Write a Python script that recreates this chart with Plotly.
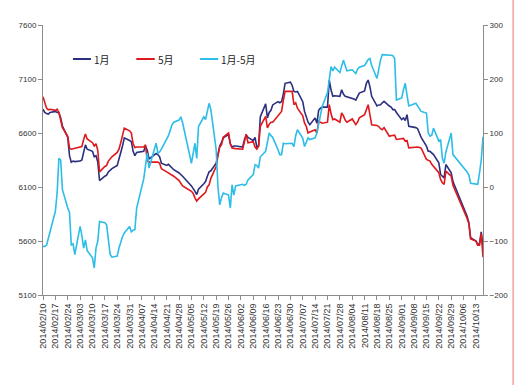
import pandas as pd
import plotly.graph_objects as go

# ---- trading calendar (China futures, 2014) ----
holidays = ["2014-04-07", "2014-05-01", "2014-05-02", "2014-06-02", "2014-09-08",
            "2014-10-01", "2014-10-02", "2014-10-03", "2014-10-06", "2014-10-07"]
days = pd.bdate_range("2014-02-10", "2014-10-17")
dates = [d for d in days if d.strftime("%Y-%m-%d") not in holidays]

# ---- 1月 contract (left axis) ----
jan = [
    6820, 6790, 6780, 6775, 6790, 6800, 6790, 6790, 6740, 6665, 6560, 6390, 6330, 6340, 6335,
    6340, 6350, 6420, 6490, 6450, 6430, 6380, 6390, 6330, 6160, 6200, 6210, 6240, 6260, 6270, 6300, 6350, 6420, 6480, 6555, 6530,
    6520, 6430, 6390, 6420, 6430, 6480, 6440, 6360, 6400, 6410, 6400, 6380, 6320, 6300, 6310, 6290, 6270, 6260, 6230, 6210, 6200,
    6110, 6090, 6060, 6030, 6080, 6130, 6150, 6200, 6240, 6250, 6320, 6400, 6480, 6510, 6555, 6585, 6500, 6470, 6480, 6480,
    6470, 6540, 6580, 6560, 6530, 6560, 6470, 6480, 6750, 6870, 6740, 6790, 6810, 6860, 6890, 6880, 6890, 6960, 7060, 7070,
    7040, 6985, 6980, 6985, 6890, 6800, 6740, 6700, 6677, 6740, 6690, 6810, 6830, 6840, 6840, 7090, 7000, 6940, 6945, 6940, 7000, 6960, 6940,
    6935, 6923, 6915, 6905, 6940, 6970, 6990, 7060, 7090, 7030, 6940, 6850, 6860, 6862, 6880, 6893, 6850, 6840, 6816, 6816, 6790,
    6724, 6740, 6715, 6770, 6662, 6650, 6640, 6600, 6560, 6478, 6431, 6430, 6410, 6400, 6324, 6216, 6200, 6185, 6308, 6232, 6150,
    5830, 5770, 5630, 5600, 5570, 5575, 5685, 5550,
]

# ---- 5月 contract (left axis) ----
may = [
    6935, 6880, 6830, 6815, 6820, 6810, 6820, 6790, 6730, 6650, 6570, 6460, 6450, 6455, 6460,
    6470, 6475, 6540, 6590, 6545, 6510, 6480, 6500, 6440, 6240, 6290, 6300, 6340, 6360, 6380, 6420, 6450, 6510, 6580, 6645, 6620,
    6600, 6500, 6465, 6470, 6470, 6490, 6340, 6330, 6330, 6335, 6330, 6320, 6270, 6240, 6230, 6215, 6210, 6200, 6160, 6130, 6110,
    6060, 6040, 6000, 5970, 5990, 6030, 6050, 6100, 6120, 6180, 6290, 6390, 6470, 6490, 6560, 6600, 6500, 6460, 6455, 6455,
    6450, 6530, 6590, 6510, 6520, 6470, 6450, 6478, 6662, 6754, 6647, 6680, 6700, 6700, 6760, 6790, 6800, 6900, 6985, 6985,
    6985, 6862, 6880, 6830, 6760, 6693, 6660, 6600, 6610, 6630, 6600, 6708, 6700, 6690, 6700, 6862, 6780, 6724, 6730, 6700, 6785, 6760, 6720,
    6700, 6730, 6700, 6677, 6700, 6740, 6770, 6820, 6862, 6770, 6677, 6670, 6660, 6640, 6631, 6650, 6570, 6575, 6575, 6580, 6540,
    6545, 6550, 6524, 6530, 6462, 6470, 6470, 6465, 6460, 6355, 6350, 6340, 6310, 6293, 6232, 6170, 6139, 6124, 6247, 6200, 6115,
    5808, 5760, 5620, 5600, 5560, 5560, 5670, 5450,
]

# ---- 1月-5月 spread (right axis) ----
spread = [
    -110, -110, -108, -95, -79, -45, -11, 53, 50, -5, -39, -47, -107, -105, -125,
    -73, -90, -113, -98, -118, -131, -150, -113, -100, -64, -66, -70, -100, -125, -130, -128, -113, -100, -92, -85, -73,
    -83, -80, -79, -39, 15, 40, 63, 35, 72, 81, 63, 65, 70, 87, 95, 105, 115, 120, 124, 130, 119,
    44, 60, 81, 53, 112, 130, 125, 140, 155, 143, 69, 1, -33, -20, -11, -15, -39, 4, -15, 2,
    5, 3, 5, 13, 23, 41, 40, 35, 56, 66, 80, 100, 95, 92, 69, 60, 60, 81, 80, 81,
    81, 75, 95, 106, 90, 75, 85, 91, 88, 91, 100, 115, 130, 149, 175, 204, 223, 215, 222, 212, 225, 235, 225,
    215, 217, 213, 210, 218, 222, 225, 232, 236, 238, 225, 201, 220, 235, 245, 245, 245, 244, 243, 238, 161,
    165, 180, 192, 170, 150, 155, 150, 145, 140, 137, 100, 94, 96, 109, 85, 88, 53, 44, 65, 100, 60,
    28, 22, 7, 5, 5, 25, 50, 93,
]

names = ["1月", "5月", "1月-5月"]
colors = ["#2b2f7e", "#e0181b", "#2cbde8"]

for s in (jan, may, spread):
    if len(s) != len(dates):
        raise ValueError(f"length {len(s)} != {len(dates)}")

fig = go.Figure()
fig.add_trace(go.Scatter(x=dates, y=jan, name=names[0], mode="lines",
                         line=dict(color=colors[0], width=1.6)))
fig.add_trace(go.Scatter(x=dates, y=may, name=names[1], mode="lines",
                         line=dict(color=colors[1], width=1.6)))
fig.add_trace(go.Scatter(x=dates, y=spread, name=names[2], mode="lines", yaxis="y2",
                         line=dict(color=colors[2], width=1.6)))

tickfont = dict(family="Liberation Sans, Arial, sans-serif", size=8, color="#333333")
axcol = "#8c8c8c"

fig.update_layout(
    width=520, height=385,
    margin=dict(l=43, r=32, t=25, b=90),
    paper_bgcolor="white", plot_bgcolor="white",
    showlegend=False,
    xaxis=dict(type="date", range=["2014-02-10", "2014-10-17"],
               tick0="2014-02-10", dtick=7 * 86400000, tickformat="%Y/%m/%d",
               tickangle=-90, tickfont=dict(family="Liberation Sans, Arial, sans-serif", size=9, color="#333"),
               showgrid=False, zeroline=False, showline=True, linecolor=axcol, linewidth=1,
               ticks="outside", ticklen=4, tickcolor=axcol),
    yaxis=dict(range=[5100, 7600], tick0=5100, dtick=500, tickfont=tickfont,
               showgrid=False, zeroline=False, showline=True, linecolor=axcol, linewidth=1,
               ticks="outside", ticklen=4, tickcolor=axcol),
    yaxis2=dict(range=[-200, 300], tick0=-200, dtick=100, overlaying="y", side="right", tickfont=tickfont,
                showgrid=False, zeroline=False, showline=True, linecolor=axcol, linewidth=1,
                ticks="outside", ticklen=4, tickcolor=axcol),
)

# manual legend (short sample lines like the original)
leg_y = 0.874
leg_items = [(0.068, 0.109), (0.212, 0.254), (0.357, 0.398)]
for (x0, x1), nm, col in zip(leg_items, names, colors):
    fig.add_shape(type="line", xref="paper", yref="paper", x0=x0, x1=x1, y0=leg_y, y1=leg_y,
                  line=dict(color=col, width=2))
    fig.add_annotation(xref="paper", yref="paper", x=x1 + 0.002, y=leg_y, text=nm, showarrow=False,
                       xanchor="left", yanchor="middle",
                       font=dict(family="Noto Sans CJK SC, sans-serif", size=10, color="#222"))

fig.add_shape(type="line", xref="paper", yref="paper", x0=1.0685, x1=1.0685, y0=-0.35, y1=1.1,
              line=dict(color="#f2a0a0", width=1.5))

fig.write_html("out.html", config={"displayModeBar": False},
               post_script="document.body.style.margin='0';document.body.style.overflow='hidden';")
